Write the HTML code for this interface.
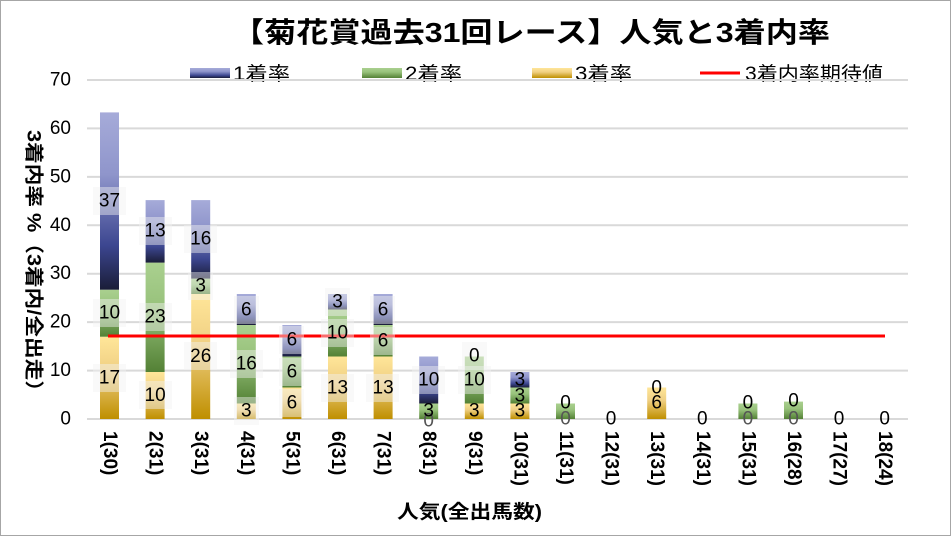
<!DOCTYPE html>
<html><head><meta charset="utf-8"><style>
html,body{margin:0;padding:0;background:#fff}
svg{display:block}
text{font-family:"Liberation Sans","Noto Sans CJK JP",sans-serif}
</style></head><body>
<svg width="951" height="536" viewBox="0 0 951 536" xmlns="http://www.w3.org/2000/svg">
<defs>
<linearGradient id="gb" x1="0" y1="0" x2="0" y2="1"><stop offset="0" stop-color="#a6abd9"/><stop offset="0.35" stop-color="#8f95cb"/><stop offset="0.75" stop-color="#3c4690"/><stop offset="1" stop-color="#1a1d38"/></linearGradient>
<linearGradient id="gg" x1="0" y1="0" x2="0" y2="1"><stop offset="0" stop-color="#aad08f"/><stop offset="0.4" stop-color="#98c27c"/><stop offset="1" stop-color="#538135"/></linearGradient>
<linearGradient id="gy" x1="0" y1="0" x2="0" y2="1"><stop offset="0" stop-color="#ffe699"/><stop offset="0.4" stop-color="#f0d084"/><stop offset="1" stop-color="#bf8f00"/></linearGradient>
</defs>
<rect x="0.5" y="0.5" width="950" height="535" fill="#fff" stroke="#a6a6a6"/>
<text x="232" y="42" font-size="28" font-weight="bold" textLength="598" lengthAdjust="spacingAndGlyphs">【菊花賞過去31回レース】人気と3着内率</text>
<!-- legend -->
<rect x="190" y="68" width="40" height="10" fill="url(#gb)"/><text x="233" y="80" font-size="19" textLength="57" lengthAdjust="spacingAndGlyphs">1着率</text>
<rect x="362" y="68" width="40" height="10" fill="url(#gg)"/><text x="405" y="80" font-size="19" textLength="57" lengthAdjust="spacingAndGlyphs">2着率</text>
<rect x="532" y="68" width="40" height="10" fill="url(#gy)"/><text x="575" y="80" font-size="19" textLength="57" lengthAdjust="spacingAndGlyphs">3着率</text>
<line x1="700" y1="73" x2="740" y2="73" stroke="#ff0000" stroke-width="3"/><text x="745" y="80" font-size="19" textLength="138" lengthAdjust="spacingAndGlyphs">3着内率期待値</text>
<!-- grid -->
<g stroke="#d9d9d9" stroke-width="2">
<line x1="87" y1="80" x2="908" y2="80"/><line x1="87" y1="128.4" x2="908" y2="128.4"/><line x1="87" y1="176.9" x2="908" y2="176.9"/><line x1="87" y1="225.3" x2="908" y2="225.3"/><line x1="87" y1="273.7" x2="908" y2="273.7"/><line x1="87" y1="322.1" x2="908" y2="322.1"/><line x1="87" y1="370.6" x2="908" y2="370.6"/><line x1="87" y1="419" x2="908" y2="419"/>
</g>
<g font-size="19" text-anchor="end" dominant-baseline="central">
<text x="71" y="80">70</text><text x="71" y="128.4">60</text><text x="71" y="176.9">50</text><text x="71" y="225.3">40</text><text x="71" y="273.7">30</text><text x="71" y="322.1">20</text><text x="71" y="370.6">10</text><text x="71" y="419">0</text>
</g>
<text transform="translate(33,130) rotate(90)" font-size="19" font-weight="bold" dominant-baseline="central" textLength="272" lengthAdjust="spacingAndGlyphs">3着内率 %（3着内/全出走）</text>
<!-- bars -->
<g>
<rect x="100" y="336.7" width="19" height="82.3" fill="url(#gy)"/><rect x="100" y="289.7" width="19" height="47" fill="url(#gg)"/><rect x="100" y="112.4" width="19" height="177.3" fill="url(#gb)"/>
<rect x="145.6" y="372" width="19" height="47" fill="url(#gy)"/><rect x="145.6" y="262.6" width="19" height="109.4" fill="url(#gg)"/><rect x="145.6" y="200.1" width="19" height="62.5" fill="url(#gb)"/>
<rect x="191.2" y="294" width="19" height="125" fill="url(#gy)"/><rect x="191.2" y="278.6" width="19" height="15.4" fill="url(#gg)"/><rect x="191.2" y="200.1" width="19" height="78.5" fill="url(#gb)"/>
<rect x="236.8" y="403.5" width="19" height="15.5" fill="url(#gy)"/><rect x="236.8" y="325" width="19" height="78.5" fill="url(#gg)"/><rect x="236.8" y="294" width="19" height="31" fill="url(#gb)"/>
<rect x="282.4" y="387.5" width="19" height="31.5" fill="url(#gy)"/><rect x="282.4" y="356.5" width="19" height="31" fill="url(#gg)"/><rect x="282.4" y="325" width="19" height="31.5" fill="url(#gb)"/>
<rect x="328" y="356.5" width="19" height="62.5" fill="url(#gy)"/><rect x="328" y="309.5" width="19" height="47" fill="url(#gg)"/><rect x="328" y="294" width="19" height="15.5" fill="url(#gb)"/>
<rect x="373.6" y="356.5" width="19" height="62.5" fill="url(#gy)"/><rect x="373.6" y="325" width="19" height="31.5" fill="url(#gg)"/><rect x="373.6" y="294" width="19" height="31" fill="url(#gb)"/>
<rect x="419.2" y="403.5" width="19" height="15.5" fill="url(#gg)"/><rect x="419.2" y="356.5" width="19" height="47" fill="url(#gb)"/>
<rect x="464.8" y="403.5" width="19" height="15.5" fill="url(#gy)"/><rect x="464.8" y="356.5" width="19" height="47" fill="url(#gg)"/>
<rect x="510.4" y="403.5" width="19" height="15.5" fill="url(#gy)"/><rect x="510.4" y="387.5" width="19" height="16" fill="url(#gg)"/><rect x="510.4" y="372" width="19" height="15.5" fill="url(#gb)"/>
<rect x="556" y="403.5" width="19" height="15.5" fill="url(#gg)"/>
<rect x="647.2" y="387.5" width="19" height="31.5" fill="url(#gy)"/>
<rect x="738.4" y="403.5" width="19" height="15.5" fill="url(#gg)"/>
<rect x="784" y="401.6" width="19" height="17.4" fill="url(#gg)"/>
</g>
<line x1="108" y1="336" x2="885" y2="336" stroke="#ff0000" stroke-width="3"/>
<!-- data labels -->
<g font-size="19" text-anchor="middle" dominant-baseline="central">
<g fill="#f2f2f2" fill-opacity="0.45">
<rect x="93" y="364" width="33" height="28"/><rect x="93" y="299" width="33" height="28"/><rect x="93" y="187" width="33" height="28"/>
<rect x="139" y="381" width="33" height="28"/><rect x="139" y="303" width="33" height="28"/><rect x="139" y="217" width="33" height="28"/>
<rect x="184" y="342" width="33" height="28"/><rect x="188" y="272" width="25" height="28"/><rect x="184" y="225" width="33" height="28"/>
<rect x="234" y="397" width="25" height="28"/><rect x="230" y="350" width="33" height="28"/><rect x="234" y="296" width="25" height="28"/>
<rect x="279" y="389" width="25" height="28"/><rect x="279" y="358" width="25" height="28"/><rect x="279" y="326" width="25" height="28"/>
<rect x="321" y="374" width="33" height="28"/><rect x="321" y="319" width="33" height="28"/><rect x="325" y="288" width="25" height="28"/>
<rect x="366" y="374" width="33" height="28"/><rect x="370" y="327" width="25" height="28"/><rect x="370" y="296" width="25" height="28"/>
<rect x="412" y="366" width="33" height="28"/><rect x="458" y="366" width="33" height="28"/><rect x="462" y="342" width="25" height="28"/>
</g>
<text x="109.5" y="378">17</text><text x="109.5" y="313">10</text><text x="109.5" y="201">37</text>
<text x="155.1" y="395.5">10</text><text x="155.1" y="317">23</text><text x="155.1" y="231">13</text>
<text x="200.7" y="356.5">26</text><text x="200.7" y="286">3</text><text x="200.7" y="239">16</text>
<text x="246.3" y="411">3</text><text x="246.3" y="364">16</text><text x="246.3" y="310">6</text>
<text x="291.9" y="403">6</text><text x="291.9" y="372">6</text><text x="291.9" y="340">6</text>
<text x="337.5" y="388">13</text><text x="337.5" y="333">10</text><text x="337.5" y="302">3</text>
<text x="383.1" y="388">13</text><text x="383.1" y="341">6</text><text x="383.1" y="310">6</text>
<text x="428.7" y="421" fill="#555">0</text><text x="428.7" y="411">3</text><text x="428.7" y="380">10</text>
<text x="474.3" y="411">3</text><text x="474.3" y="380">10</text><text x="474.3" y="356">0</text>
<text x="519.9" y="411">3</text><text x="519.9" y="396">3</text><text x="519.9" y="380">3</text>
<text x="565.5" y="419" fill="#555">0</text><text x="565.5" y="403">0</text>
<text x="611.1" y="419">0</text>
<text x="656.7" y="403">6</text><text x="656.7" y="388">0</text>
<text x="702.3" y="419">0</text>
<text x="747.9" y="419" fill="#555">0</text><text x="747.9" y="403">0</text>
<text x="793.5" y="419" fill="#555">0</text><text x="793.5" y="401">0</text>
<text x="839.1" y="419">0</text><text x="884.7" y="419">0</text>
</g>
<!-- x labels -->
<g font-size="19" font-weight="bold" dominant-baseline="central">
<text transform="translate(109.5,431) rotate(90)">1(30)</text>
<text transform="translate(155.1,431) rotate(90)">2(31)</text>
<text transform="translate(200.7,431) rotate(90)">3(31)</text>
<text transform="translate(246.3,431) rotate(90)">4(31)</text>
<text transform="translate(291.9,431) rotate(90)">5(31)</text>
<text transform="translate(337.5,431) rotate(90)">6(31)</text>
<text transform="translate(383.1,431) rotate(90)">7(31)</text>
<text transform="translate(428.7,431) rotate(90)">8(31)</text>
<text transform="translate(474.3,431) rotate(90)">9(31)</text>
<text transform="translate(519.9,431) rotate(90)">10(31)</text>
<text transform="translate(565.5,431) rotate(90)">11(31)</text>
<text transform="translate(611.1,431) rotate(90)">12(31)</text>
<text transform="translate(656.7,431) rotate(90)">13(31)</text>
<text transform="translate(702.3,431) rotate(90)">14(31)</text>
<text transform="translate(747.9,431) rotate(90)">15(31)</text>
<text transform="translate(793.5,431) rotate(90)">16(28)</text>
<text transform="translate(839.1,431) rotate(90)">17(27)</text>
<text transform="translate(884.7,431) rotate(90)">18(24)</text>
</g>
<text x="397" y="518" font-size="19" font-weight="bold" textLength="145" lengthAdjust="spacingAndGlyphs">人気(全出馬数)</text>
</svg>
</body></html>
